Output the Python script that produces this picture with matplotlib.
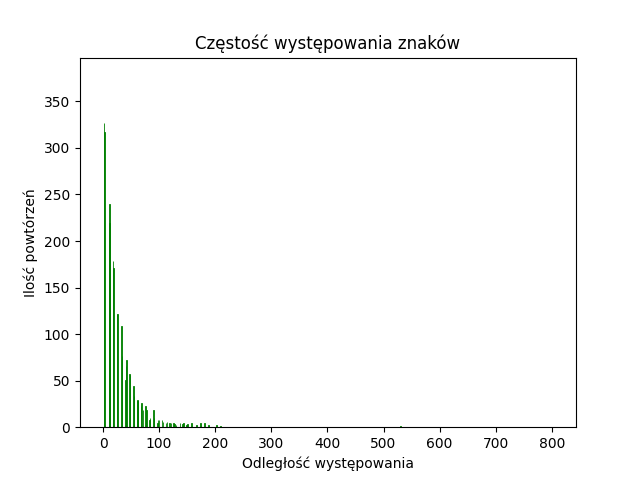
import matplotlib.pyplot as plt

odleglosc = [2, 3, 11, 12, 18, 19, 25, 26, 33, 34, 40, 41, 42, 47, 48, 54, 55, 61, 62,
             68, 69, 71, 76, 77, 83, 84, 90, 91, 97, 98, 100, 105, 107, 112, 114, 119,
             121, 126, 128, 130, 137, 142, 144, 149, 151, 158, 167, 174, 181, 188, 202,
             210, 530]
ilosc = [327, 317, 240, 219, 179, 171, 122, 122, 109, 77, 51, 66, 72, 57, 56, 44, 33, 29, 28,
         23, 26, 18, 23, 18, 8, 10, 18, 10, 5, 8, 8, 8, 6, 4, 6, 4,
         4, 4, 3, 2, 4, 3, 4, 2, 3, 4, 2, 4, 4, 2, 2,
         1, 1]

plt.figure(figsize=(6.4, 4.8))
plt.bar(odleglosc, ilosc, width=1.2, color="green", edgecolor="green", linewidth=0.6)
plt.xlim(-41, 843)
plt.ylim(0, 397)
plt.title("Częstość występowania znaków")
plt.xlabel("Odległość występowania")
plt.ylabel("Ilość powtórzeń")
plt.savefig("out.png")
